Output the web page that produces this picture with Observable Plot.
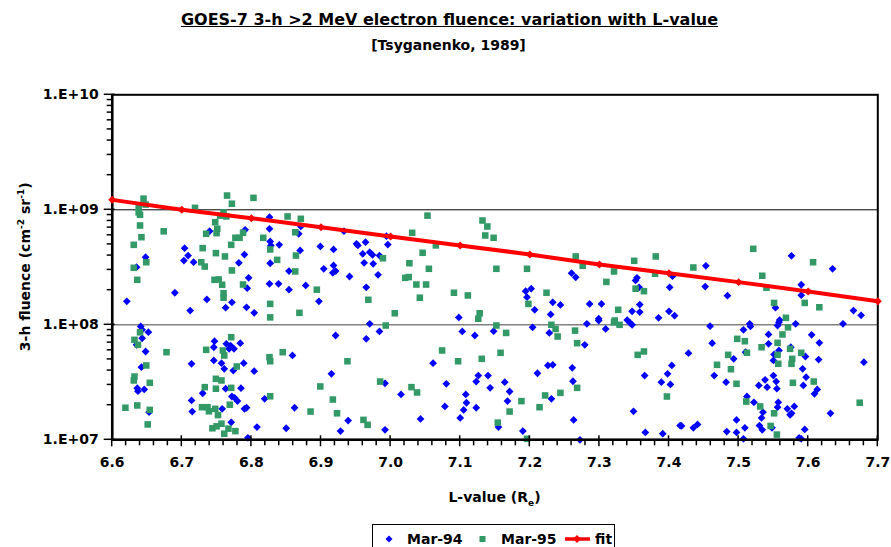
<!DOCTYPE html>
<html><head><meta charset="utf-8">
<script src="https://cdn.jsdelivr.net/npm/d3@7"></script>
<script src="https://cdn.jsdelivr.net/npm/@observablehq/plot@0.6"></script>
<style>
body{margin:0;background:#fff;}
#wrap{position:relative;width:891px;height:547px;overflow:hidden;background:#fff;font-family:"DejaVu Sans",sans-serif;font-weight:bold;color:#000}
#title{position:absolute;top:10px;left:0;width:899px;text-align:center;font-size:16px;line-height:20px;text-decoration:underline;white-space:nowrap}
#subtitle{position:absolute;top:35px;left:0;width:897px;text-align:center;font-size:14px;line-height:20px;white-space:nowrap}
#plot{position:absolute;top:70px;left:0}
#legend{position:absolute;top:524px;left:372px;width:243px;height:30px;box-sizing:border-box;border:1px solid #000;background:#fff}
#legend .t{position:absolute;top:4px;font-size:14px;line-height:20px;white-space:nowrap}
#legend svg{position:absolute}
</style>
</head><body>
<div id="wrap">
  <div id="title">GOES-7 3-h &gt;2 MeV electron fluence: variation with L-value</div>
  <div id="subtitle">[Tsyganenko, 1989]</div>
  <div id="plot"></div>
  <div id="legend">
    <svg style="left:11px;top:9px" width="10" height="10"><polygon points="5,1.5 8.5,5 5,8.5 1.5,5" fill="#0000ff"/></svg>
    <span class="t" style="left:34px">Mar-94</span>
    <svg style="left:104px;top:9px" width="12" height="10"><rect x="2.5" y="2" width="6" height="6" fill="#339966"/></svg>
    <span class="t" style="left:128px">Mar-95</span>
    <svg style="left:190px;top:7px" width="30" height="14"><line x1="2" y1="7" x2="27" y2="7" stroke="#ff0000" stroke-width="3.5"/><polygon points="14,3 18,7 14,11 10,7" fill="#ff0000"/></svg>
    <span class="t" style="left:222px">fit</span>
  </div>
</div>
<script>
// ---- data (L-value, 3-h fluence) ----
const mar94 = [
[6.648,3.87e8],[6.635,3.17e8],[6.621,1.6e8],[6.690,1.9e8],[6.704,4.64e8],[6.709,4.0e8],[6.703,3.62e8],[6.717,3.5e8],[6.712,1.33e8],[6.736,1.66e8],[6.740,6.52e8],[6.791,6.7e8],[6.790,4.08e8],[6.782,3.46e8],[6.796,2.56e8],[6.794,2.08e8],[6.772,1.57e8],[6.763,1.41e8],[6.793,1.42e8],[6.804,1.27e8],[6.826,8.62e8],[6.826,6.84e8],[6.827,5.3e8],[6.840,4.96e8],[6.828,4.9e8],[6.827,3.43e8],[6.854,2.93e8],[6.826,2.27e8],[6.839,2.27e8],[6.854,2.02e8],[6.870,4.43e8],[6.868,6.18e8],
[6.641,9.67e7],[6.643,9.05e7],[6.652,8.62e7],[6.643,7.64e7],[6.635,6.7e7],[6.648,5.86e7],[6.642,4.28e7],[6.636,2.81e7],[6.637,2.65e7],[6.646,2.74e7],[6.653,1.74e7],[6.714,4.58e7],[6.714,2.2e7],[6.715,1.76e7],[6.747,7.2e7],[6.746,6.38e7],[6.764,6.84e7],[6.770,6.6e7],[6.775,6.18e7],[6.784,6.92e7],[6.768,6.18e7],[6.746,4.9e7],[6.757,4.64e7],[6.761,4.14e7],[6.774,4.0e7],[6.789,4.64e7],[6.804,3.95e7],[6.763,2.78e7],[6.785,2.81e7],[6.730,2.54e7],[6.772,2.38e7],[6.776,2.32e7],[6.780,2.17e7],[6.758,1.86e7],[6.790,1.86e7],[6.793,1.9e7],[6.771,1.42e7],[6.808,1.29e7],[6.795,1.04e7],[6.819,2.27e7],[6.859,5.41e7],[6.850,1.26e7],[6.862,1.9e7],
[6.871,7.16e8],[6.899,4.8e8],[6.918,4.52e8],[6.933,6.52e8],[6.951,5.06e8],[6.953,4.9e8],[6.964,5.23e8],[6.960,4.14e8],[6.970,4.28e8],[6.974,4.05e8],[6.984,4.0e8],[6.994,5.89e8],[6.996,4.99e8],[6.962,3.46e8],[6.975,3.39e8],[6.904,3.07e8],[6.918,3.28e8],[6.921,2.93e8],[6.917,2.83e8],[6.941,2.63e8],[6.982,2.72e8],[6.878,2.2e8],[6.965,2.12e8],[6.897,1.6e8],[7.098,1.16e8],
[6.921,8.07e7],[6.965,7.55e7],[6.970,1.02e8],[6.984,8.75e7],[6.915,3.75e7],[6.992,3.1e7],[6.939,1.47e7],[6.928,1.19e7],[6.992,1.22e7],[7.015,2.48e7],[7.043,1.52e7],[7.061,4.64e7],[7.080,3.07e7],[7.078,1.95e7],[7.103,8.75e7],[7.121,8.07e7],[7.108,2.48e7],[7.109,2.1e7],[7.105,1.82e7],[7.100,1.55e7],[7.123,1.9e7],[7.126,3.62e7],[7.123,3.21e7],[7.140,3.62e7],[7.143,2.83e7],
[7.194,1.96e8],[7.202,2.06e8],[7.196,1.74e8],[7.207,1.35e8],[7.233,1.57e8],[7.244,1.49e8],[7.230,1.23e8],[7.260,2.81e8],[7.266,2.59e8],[7.286,1.52e8],[7.303,1.52e8],[7.299,1.13e8],[7.340,1.1e8],[7.347,1.31e8],[7.358,1.5e8],[7.358,1.29e8],[7.352,2.43e8],[7.354,2.56e8],[7.357,2.12e8],[7.385,1.15e8],[7.400,1.31e8],[7.408,1.2e8],[7.401,2.12e8],[7.405,2.65e8],
[7.148,8.8e7],[7.204,9.5e7],[7.228,8.5e7],[7.282,1.02e8],[7.299,1.09e8],[7.309,9.2e7],[7.279,6.7e7],[7.344,1.04e8],[7.347,1.0e8],[7.164,3.17e7],[7.171,2.63e7],[7.168,2.17e7],[7.155,1.29e7],[7.211,3.79e7],[7.226,4.43e7],[7.233,4.49e7],[7.231,2.27e7],[7.190,1.19e7],[7.261,4.23e7],[7.262,3.23e7],[7.263,1.49e7],[7.272,1.0e7],[7.349,1.77e7],[7.365,3.62e7],[7.366,1.16e7],[7.391,1.13e7],[7.389,3.17e7],[7.398,3.75e7],[7.404,4.43e7],[7.402,3.03e7],[7.416,1.33e7],
[7.576,3.98e8],[7.635,3.07e8],[7.453,3.26e8],[7.452,2.15e8],[7.484,1.79e8],[7.590,2.23e8],[7.590,1.81e8],[7.553,1.41e8],[7.665,1.33e8],[7.676,1.21e8],[7.559,1.1e8],
[7.459,9.72e7],[7.507,9.05e7],[7.516,1.02e8],[7.517,9.67e7],[7.558,1.05e8],[7.556,9.86e7],[7.582,1.02e8],[7.650,1.02e8],[7.543,8.24e7],[7.462,6.92e7],[7.543,6.84e7],[7.605,8.18e7],[7.616,6.97e7],[7.428,5.66e7],[7.510,5.78e7],[7.551,5.52e7],[7.558,5.98e7],[7.575,6.38e7],[7.596,5.3e7],[7.550,4.9e7],[7.493,5.06e7],[7.615,4.99e7],[7.680,4.73e7],[7.592,4.14e7],[7.465,3.62e7],[7.482,3.17e7],[7.538,3.32e7],[7.550,3.62e7],[7.554,3.21e7],[7.529,2.97e7],[7.541,2.87e7],[7.555,2.78e7],[7.597,3.5e7],[7.593,2.97e7],[7.613,2.74e7],[7.609,2.51e7],[7.512,2.38e7],[7.522,2.12e7],[7.557,2.12e7],[7.556,1.92e7],[7.570,1.86e7],[7.580,1.95e7],[7.576,1.7e7],[7.574,1.65e7],[7.535,1.74e7],[7.533,1.55e7],[7.497,1.49e7],[7.530,1.33e7],[7.534,1.22e7],[7.509,1.27e7],[7.497,1.16e7],[7.483,1.18e7],[7.507,1.02e7],[7.548,1.27e7],[7.595,1.23e7],[7.587,1.04e7],[7.590,1.02e7],[7.632,1.7e7],[7.418,1.32e7],[7.435,1.27e7],[7.441,1.36e7]
];
const mar95 = [
[6.645,1.25e9],[6.648,1.11e9],[6.638,1.05e9],[6.638,9.5e8],[6.640,9.05e8],[6.640,7.3e8],[6.642,5.78e8],[6.631,4.96e8],[6.649,3.5e8],[6.631,3.13e8],[6.636,2.46e8],[6.674,6.5e8],[6.719,1.04e9],[6.765,1.33e9],[6.772,1.13e9],[6.803,1.27e9],[6.760,9.5e8],[6.755,8.9e8],[6.764,8.75e8],[6.748,7.8e8],[6.751,6.84e8],[6.735,6.18e8],[6.750,6.27e8],[6.788,6.31e8],[6.777,5.71e8],[6.783,5.71e8],[6.771,4.96e8],[6.817,5.71e8],[6.730,4.64e8],[6.749,4.2e8],[6.762,3.93e8],[6.728,3.5e8],[6.733,3.21e8],[6.772,2.97e8],[6.747,2.46e8],[6.753,2.48e8],[6.758,2.23e8],[6.760,1.88e8],[6.760,1.72e8],[6.788,2.24e8],[6.852,8.75e8],[6.863,6.38e8],[6.827,4.52e8],[6.837,3.67e8],[6.863,2.91e8],[6.864,4.0e8],[6.827,1.52e8],[6.827,1.16e8],[6.869,1.27e8],
[6.640,8.6e7],[6.632,7.4e7],[6.637,6.7e7],[6.678,5.78e7],[6.649,4.43e7],[6.632,3.55e7],[6.631,3.28e7],[6.654,3.13e7],[6.619,1.9e7],[6.636,1.99e7],[6.654,1.82e7],[6.651,1.36e7],[6.735,6.06e7],[6.771,7.8e7],[6.759,5.98e7],[6.761,5.41e7],[6.779,4.34e7],[6.749,3.39e7],[6.757,3.28e7],[6.733,2.87e7],[6.749,2.78e7],[6.771,2.83e7],[6.729,1.92e7],[6.737,1.92e7],[6.739,1.77e7],[6.748,1.86e7],[6.752,1.64e7],[6.769,2.02e7],[6.757,1.38e7],[6.744,1.26e7],[6.750,1.31e7],[6.767,1.25e7],[6.777,1.19e7],[6.761,1.13e7],[6.826,5.23e7],[6.827,4.82e7],[6.845,5.78e7],[6.827,2.39e7],
[6.871,8.35e8],[6.894,2.02e8],[6.968,1.65e8],[7.006,1.26e8],[6.989,3.79e8],[7.031,6.31e8],[7.053,8.9e8],[7.046,4.23e8],[7.027,3.43e8],[7.055,3.07e8],[7.021,2.56e8],[7.026,2.6e8],[7.037,2.24e8],[7.051,2.24e8],[7.042,1.72e8],[7.065,4.9e8],[7.091,1.9e8],[7.111,1.8e8],[7.132,8.07e8],[7.139,7.16e8],[7.136,5.98e8],[7.128,1.26e8],[7.126,1.13e8],
[6.993,9.86e7],[6.938,4.82e7],[6.899,2.91e7],[6.917,2.24e7],[6.885,1.76e7],[6.923,1.7e7],[6.961,1.49e7],[6.967,1.35e7],[6.985,3.21e7],[7.030,2.87e7],[7.038,2.58e7],[7.074,5.98e7],[7.097,4.82e7],[7.131,5.06e7],
[7.148,5.71e8],[7.152,3.07e8],[7.196,3.07e8],[7.224,1.9e8],[7.198,1.52e8],[7.266,3.93e8],[7.276,3.26e8],[7.310,2.36e8],[7.321,2.91e8],[7.350,3.6e8],[7.381,3.93e8],[7.380,2.78e8],[7.352,2.06e8],[7.364,1.96e8],[7.327,1.35e8],[7.322,1.09e8],
[7.152,9.86e7],[7.166,8.5e7],[7.158,5.71e7],[7.188,2.17e7],[7.171,1.76e7],[7.154,1.41e7],[7.196,1.02e7],[7.214,1.92e7],[7.222,2.43e7],[7.244,2.56e7],[7.231,1.0e8],[7.237,9.2e7],[7.240,7.91e7],[7.265,8.9e7],[7.268,6.92e7],[7.268,2.83e7],[7.321,1.05e8],[7.329,1.0e8],[7.355,5.48e7],[7.364,5.86e7],[7.397,2.38e7],
[7.521,4.58e8],[7.607,3.5e8],[7.435,3.15e8],[7.534,2.67e8],[7.540,2.1e8],[7.551,1.55e8],[7.595,1.55e8],[7.616,1.42e8],[7.568,1.15e8],
[7.571,9.5e7],[7.563,8.24e7],[7.556,6.97e7],[7.498,7.55e7],[7.509,7.2e7],[7.533,6.38e7],[7.574,6.18e7],[7.590,5.71e7],[7.512,5.71e7],[7.485,5.48e7],[7.556,5.48e7],[7.577,5.06e7],[7.557,4.58e7],[7.576,4.58e7],[7.469,4.49e7],[7.489,4.11e7],[7.497,3.07e7],[7.578,3.13e7],[7.608,3.21e7],[7.511,2.15e7],[7.531,1.95e7],[7.551,1.7e7],[7.546,1.32e7],[7.555,1.11e7],[7.674,2.1e7]
];
const fitL = [6.6, 6.7, 6.8, 6.9, 7.0, 7.1, 7.2, 7.3, 7.4, 7.5, 7.6, 7.7];
const fitF = [1.22e9, 1.0e9, 8.45e8, 7.06e8, 5.86e8, 4.9e8, 4.09e8, 3.34e8, 2.81e8, 2.35e8, 1.95e8, 1.6e8];
const xTicks = [6.6, 6.7, 6.8, 6.9, 7.0, 7.1, 7.2, 7.3, 7.4, 7.5, 7.6, 7.7];
const xTickLabels = ["6.6", "6.7", "6.8", "6.9", "7.0", "7.1", "7.2", "7.3", "7.4", "7.5", "7.6", "7.7"];
const yTicks = [1e7, 1e8, 1e9, 1e10];
const yTickLabels = ["1.E+07", "1.E+08", "1.E+09", "1.E+10"];

const fit = fitL.map((L, i) => ({L, F: fitF[i]}));
const xMinor = d3.range(0, 56).map(i => 6.6 + i * 0.02).filter(v => Math.abs(Math.round(v * 10) / 10 - v) > 1e-6);
const yMinor = [1e7, 1e8, 1e9].flatMap(d => [2, 3, 4, 5, 6, 7, 8, 9].map(k => k * d));

function args(a, b, c, d) {
  if (a && typeof a.x === "function") return {scales: a, dims: b};
  return {scales: b, dims: d};
}

function ticksMark(a, b, c, d) {
  const {scales, dims} = args(a, b, c, d);
  const g = d3.create("svg:g").attr("stroke", "#000").attr("stroke-width", 1.5);
  const yb = dims.height - dims.marginBottom;
  const xl = dims.marginLeft;
  for (const v of xMinor) {
    const x = scales.x(v);
    g.append("line").attr("x1", x).attr("x2", x).attr("y1", yb).attr("y2", yb + 6);
  }
  for (const v of xTicks) {
    const x = scales.x(v);
    g.append("line").attr("x1", x).attr("x2", x).attr("y1", yb - 4).attr("y2", yb + 7);
  }
  for (const v of yMinor) {
    const y = scales.y(v);
    g.append("line").attr("x1", xl - 5).attr("x2", xl).attr("y1", y).attr("y2", y);
  }
  for (const v of yTicks) {
    const y = scales.y(v);
    g.append("line").attr("x1", xl - 8).attr("x2", xl + 3).attr("y1", y).attr("y2", y);
  }
  return g.node();
}

function axisTitles(a, b, c, d) {
  const {dims} = args(a, b, c, d);
  const g = d3.create("svg:g").attr("font-family", "DejaVu Sans, sans-serif").attr("font-weight", "bold").attr("fill", "#000");
  const cx = (dims.marginLeft + dims.width - dims.marginRight) / 2;
  const cy = (dims.marginTop + dims.height - dims.marginBottom) / 2;
  const xt = g.append("text").attr("x", cx).attr("y", dims.height - dims.marginBottom + 63)
    .attr("text-anchor", "middle").attr("font-size", 14);
  xt.append("tspan").text("L-value (R");
  xt.append("tspan").attr("font-size", 9).attr("dy", 4).text("e");
  xt.append("tspan").attr("dy", -4).text(")");
  const yt = g.append("text").attr("transform", `translate(30,${cy}) rotate(-90)`)
    .attr("text-anchor", "middle").attr("font-size", 14);
  yt.append("tspan").text("3-h fluence (cm");
  yt.append("tspan").attr("font-size", 9).attr("dy", -6).text("-2");
  yt.append("tspan").attr("dy", 6).text(" sr");
  yt.append("tspan").attr("font-size", 9).attr("dy", -6).text("-1");
  yt.append("tspan").attr("dy", 6).text(")");
  return g.node();
}

const chart = Plot.plot({
  width: 891,
  height: 440,
  marginTop: 24.3,
  marginBottom: 70.7,
  marginLeft: 111.7,
  marginRight: 13.7,
  x: {domain: [6.6, 7.7], axis: null},
  y: {type: "log", domain: [1e7, 1e10], axis: null},
  style: {background: "#fff", fontFamily: "DejaVu Sans, sans-serif", overflow: "visible", color: "#000"},
  marks: [
    Plot.ruleY([1e8], {stroke: "#808080", strokeWidth: 1.5}),
    Plot.ruleY([1e9], {stroke: "#000", strokeWidth: 1}),
    Plot.frame({stroke: "#000", strokeWidth: 2}),
    Plot.dot(mar94, {x: d => d[0], y: d => d[1], symbol: "diamond2", r: 3.5, fill: "#0000ff"}),
    Plot.dot(mar95, {x: d => d[0], y: d => d[1], symbol: "square", r: 3.7, fill: "#339966"}),
    Plot.ruleX([6.6], {stroke: "#000", strokeWidth: 2.5}),
    Plot.ruleY([1e7], {stroke: "#000", strokeWidth: 2.5}),
    Plot.line(fit, {x: "L", y: "F", stroke: "#ff0000", strokeWidth: 4}),
    Plot.dot(fit, {x: "L", y: "F", symbol: "diamond2", r: 3.6, fill: "#ff0000"}),
    ticksMark,
    Plot.text(yTicks, {y: d => d, text: (d, i) => yTickLabels[i], frameAnchor: "left", dx: -13.5, textAnchor: "end", fontSize: 14, fontWeight: "bold", fill: "#000"}),
    Plot.text(xTicks, {x: d => d, text: (d, i) => xTickLabels[i], frameAnchor: "bottom", dy: 27, fontSize: 14, fontWeight: "bold", fill: "#000"}),
    axisTitles
  ]
});
document.getElementById("plot").appendChild(chart);
</script>
</body></html>
